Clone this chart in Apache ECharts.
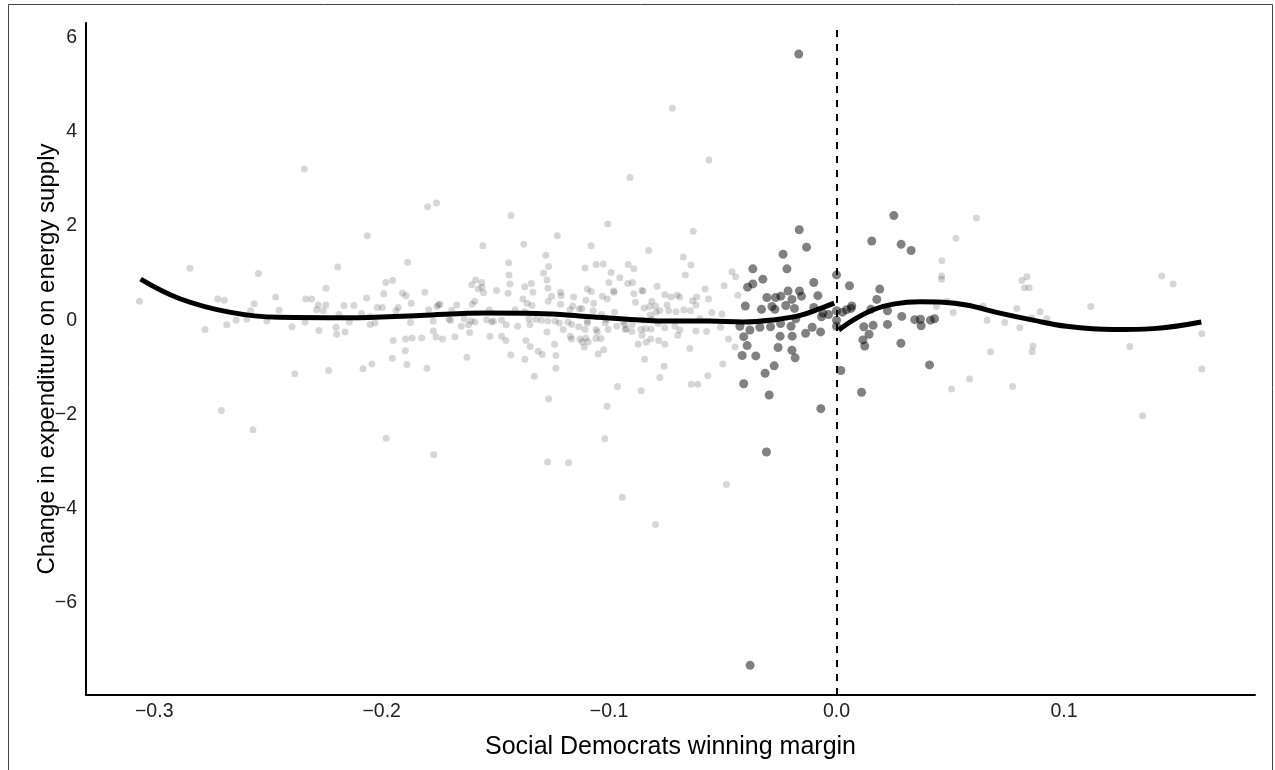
<!DOCTYPE html>
<html>
<head>
<meta charset="utf-8">
<script src="https://cdn.jsdelivr.net/npm/echarts@6/dist/echarts.min.js"></script>
<style>
  html, body { margin: 0; padding: 0; background: #fff; }
  #chart { width: 1275px; height: 770px; }
</style>
</head>
<body>
<div id="chart"></div>
<script>
// tick positions
const xTicks = [-0.3, -0.2, -0.1, 0, 0.1];
const yTicks = [-6, -4, -2, 0, 2, 4, 6];

// municipalities away from the cutoff (light points)
const farPoints = [
  [-0.2063,1.79],[-0.2843,1.10],[-0.2542,0.99],[-0.2193,1.13],[-0.3065,0.40],[-0.2721,0.45],[-0.2692,0.42],[-0.2561,0.35],
  [-0.2466,0.49],[-0.2576,0.20],[-0.2451,0.21],[-0.2334,0.45],[-0.2308,0.45],[-0.2245,0.68],[-0.2279,0.32],[-0.2245,0.32],
  [-0.2286,0.22],[-0.2257,0.20],[-0.2166,0.31],[-0.2122,0.31],[-0.2066,0.47],[-0.2088,0.14],[-0.2019,0.27],[-0.2188,0.12],
  [-0.2777,-0.20],[-0.2681,-0.10],[-0.2640,0.00],[-0.2593,0.02],[-0.2505,-0.02],[-0.2394,-0.14],[-0.2337,-0.04],[-0.2276,-0.22],
  [-0.2201,-0.15],[-0.2198,-0.30],[-0.2161,-0.25],[-0.2142,-0.04],[-0.2051,-0.09],[-0.2029,-0.06],[-0.2382,-1.14],[-0.2233,-1.07],
  [-0.2082,-1.03],[-0.2043,-0.93],[-0.2705,-1.92],[-0.2566,-2.33],
  [-0.1228,1.79],[-0.1555,1.58],[-0.1375,1.61],[-0.1079,1.58],[-0.0826,1.48],[-0.1886,1.23],[-0.1278,1.38],[-0.1442,1.22],
  [-0.1266,1.14],[-0.1057,1.18],[-0.1026,1.19],[-0.1106,1.11],[-0.0916,1.18],[-0.0891,1.09],[-0.1288,1.00],[-0.1440,0.96],
  [-0.0991,1.01],[-0.0953,0.90],[-0.1982,0.80],[-0.1952,0.84],[-0.1908,0.57],[-0.1893,0.52],[-0.1991,0.56],[-0.1810,0.59],
  [-0.1870,0.36],[-0.1927,0.27],[-0.1937,0.20],[-0.1997,0.27],
  [-0.1604,0.75],[-0.1587,0.85],[-0.1560,0.80],[-0.1559,0.70],[-0.1575,0.66],[-0.1552,0.58],[-0.1495,0.63],[-0.1436,0.77],
  [-0.1444,0.57],[-0.1371,0.71],[-0.1342,0.78],[-0.1335,0.59],[-0.1273,0.85],[-0.1269,0.68],[-0.1253,0.51],[-0.1213,0.59],
  [-0.1211,0.52],[-0.1213,0.34],[-0.1268,0.40],[-0.1379,0.45],[-0.1360,0.36],[-0.1339,0.31],[-0.1156,0.49],[-0.1102,0.42],
  [-0.1096,0.66],[-0.1079,0.61],[-0.1030,0.51],[-0.1008,0.45],[-0.1001,0.80],[-0.0980,0.62],[-0.0978,0.59],[-0.0918,0.78],
  [-0.0897,0.80],[-0.0891,0.56],[-0.0884,0.38],[-0.0857,0.63],[-0.0850,0.62],[-0.0789,0.72],[-0.0755,0.54],[-0.0812,0.40],
  [-0.0822,0.29],[-0.0846,0.26],[-0.0796,0.30],[-0.0777,0.20],[-0.0738,0.20],[-0.0745,0.32],
  [-0.2051,0.08],[-0.1873,-0.05],[-0.1793,0.22],[-0.1773,-0.02],[-0.1758,0.29],[-0.1744,0.34],[-0.1750,0.32],[-0.1692,0.21],
  [-0.1704,0.02],[-0.1697,-0.01],[-0.1670,0.32],[-0.1650,-0.13],[-0.1637,0.03],[-0.1618,-0.10],[-0.1602,0.34],[-0.1591,0.40],
  [-0.1607,-0.02],[-0.1590,-0.04],[-0.1538,0.01],[-0.1527,0.22],[-0.1508,-0.02],[-0.1516,-0.04],[-0.1473,0.00],[-0.1452,-0.10],
  [-0.1413,0.22],[-0.1402,-0.13],[-0.1371,0.18],[-0.1353,0.03],[-0.1348,-0.09],[-0.1322,0.02],[-0.1298,0.00],[-0.1269,-0.02],
  [-0.1237,-0.02],[-0.1219,-0.06],[-0.1202,-0.20],[-0.1181,-0.04],[-0.1164,-0.09],[-0.1172,0.22],[-0.1160,0.30],[-0.1131,0.24],
  [-0.1120,0.25],[-0.1096,-0.02],[-0.1095,-0.06],[-0.1133,-0.14],[-0.1106,-0.20],[-0.1102,-0.38],[-0.1057,-0.20],[-0.1052,-0.25],
  [-0.1033,0.12],[-0.1068,0.36],[-0.1070,0.20],[-0.1013,0.01],[-0.1017,-0.06],[-0.1004,-0.20],[-0.0976,0.17],[-0.0966,-0.13],
  [-0.0938,-0.04],[-0.0931,-0.09],[-0.0925,-0.18],[-0.0899,-0.09],[-0.0860,-0.20],[-0.0850,0.00],[-0.0840,-0.18],[-0.0819,0.11],
  [-0.0812,0.02],[-0.0815,-0.19],[-0.0784,-0.07],[-0.0755,-0.16],[-0.0794,0.17],
  [-0.1949,-0.43],[-0.1895,-0.40],[-0.1866,-0.38],[-0.1824,-0.38],[-0.1773,-0.23],[-0.1761,-0.36],[-0.1732,-0.40],[-0.1678,-0.35],
  [-0.1613,-0.26],[-0.1524,-0.34],[-0.1473,-0.34],[-0.1454,-0.43],[-0.1366,-0.43],[-0.1347,-0.56],[-0.1312,-0.66],[-0.1294,-0.73],
  [-0.1240,-0.51],[-0.1234,-0.75],[-0.1273,-0.25],[-0.1171,-0.34],[-0.1165,-0.40],[-0.1128,-0.40],[-0.1118,-0.46],[-0.1109,-0.57],
  [-0.1092,-0.46],[-0.1058,-0.39],[-0.1036,-0.39],[-0.1024,-0.63],[-0.1048,-0.72],[-0.0929,-0.20],[-0.0901,-0.24],[-0.0872,-0.51],
  [-0.0855,-0.32],[-0.0837,-0.47],[-0.0817,-0.40],[-0.0782,-0.43],[-0.0755,-0.51],
  [-0.1953,-0.81],[-0.1896,-0.65],[-0.1889,-0.94],[-0.1801,-1.02],[-0.1625,-0.79],[-0.1432,-0.74],[-0.1370,-0.83],[-0.1329,-1.19],
  [-0.1234,-1.02],[-0.1266,-1.67],[-0.1009,-1.83],[-0.0963,-1.41],[-0.0859,-1.50],[-0.0844,-0.83],[-0.0777,-1.22],[-0.0758,-0.98],
  [-0.0630,1.89],[-0.0674,1.34],[-0.0640,1.17],[-0.0665,0.96],[-0.0460,1.03],[-0.0443,0.92],[-0.0494,0.73],[-0.0578,0.66],
  [-0.0434,0.53],[-0.0728,0.49],[-0.0701,0.53],[-0.0689,0.49],[-0.0633,0.41],[-0.0615,0.49],[-0.0563,0.45],[-0.0618,0.32],
  [-0.0706,0.18],[-0.0671,0.22],[-0.0642,0.20],[-0.0548,0.16],[-0.0504,0.13],[-0.0601,0.03],[-0.0711,-0.13],[-0.0689,-0.21],
  [-0.0618,-0.23],[-0.0571,-0.24],[-0.0510,-0.15],[-0.0698,-0.32],[-0.0475,-0.40],[-0.0446,-0.57],[-0.0645,-0.60],[-0.0500,-0.93],
  [-0.0566,-1.18],[-0.0639,-1.36],[-0.0610,-1.36],
  [0.0615,2.17],[0.0525,1.74],[0.0463,1.26],[0.0462,0.94],[0.0462,0.87],[0.0815,0.84],[0.0837,0.92],[0.0826,0.69],
  [0.0847,0.69],[0.1430,0.94],[0.1480,0.77],[0.0486,0.40],[0.0439,0.29],[0.0513,0.16],[0.0645,0.30],[0.0662,0.00],
  [0.0740,-0.05],[0.0793,0.25],[0.0806,-0.16],[0.0857,0.05],[0.0895,0.18],[0.0925,0.03],[0.1118,0.29],[0.0677,-0.67],
  [0.0864,-0.55],[0.0860,-0.67],[0.1289,-0.56],[0.1606,-0.29],[0.1606,-1.04],[0.0585,-1.25],[0.0506,-1.46],[0.0774,-1.41],
  [0.1346,-2.03],
  [-0.0722,4.50],[-0.0561,3.40],[-0.2340,3.21],[-0.0908,3.03],[-0.1798,2.41],[-0.1759,2.49],[-0.1431,2.22],[-0.1005,2.04],
  [-0.1980,-2.51],[-0.1771,-2.86],[-0.1270,-3.01],[-0.1178,-3.03],[-0.1019,-2.52],[-0.0942,-3.76],[-0.0796,-4.34],[-0.0484,-3.49]
];

// municipalities close to the cutoff (dark points)
const closePoints = [
  [-0.0164,1.92],[-0.0132,1.55],[-0.0235,1.40],[-0.0218,1.09],[-0.0368,1.09],[-0.0324,0.87],[-0.0368,0.77],[-0.0391,0.70],
  [-0.0100,0.80],[0.0000,0.96],[-0.0306,0.48],[-0.0268,0.48],[-0.0245,0.51],[-0.0213,0.62],[-0.0163,0.62],[-0.0196,0.44],
  [-0.0154,0.51],[-0.0082,0.52],[-0.0401,0.30],[-0.0330,0.23],[-0.0284,0.29],[-0.0271,0.23],[-0.0223,0.31],[-0.0185,0.25],
  [-0.0100,0.27],[-0.0060,0.15],[-0.0066,0.07],[-0.0035,0.12],[0.0000,0.20],[0.0000,0.00],[0.0000,-0.13],[0.0026,0.17],
  [0.0057,0.73],[0.0067,0.30],[0.0064,0.25],[0.0044,0.22],[0.0019,-1.07],[-0.0425,-0.13],[-0.0381,-0.21],[-0.0337,-0.15],
  [-0.0290,-0.14],[-0.0246,-0.07],[-0.0200,-0.13],[-0.0179,0.03],[-0.0408,-0.35],[-0.0393,-0.54],[-0.0415,-0.75],[-0.0355,-0.76],
  [-0.0257,-0.58],[-0.0248,-0.34],[-0.0195,-0.34],[-0.0136,-0.28],[-0.0107,-0.15],[-0.0070,-0.25],[-0.0196,-0.64],[-0.0182,-0.80],
  [-0.0274,-0.97],[-0.0314,-1.13],[-0.0408,-1.35],[-0.0296,-1.59],[-0.0069,-1.88],[0.0110,-1.53],[0.0116,-0.42],[0.0124,-0.55],
  [0.0143,-0.30],[0.0120,-0.14],[0.0161,-0.11],[0.0155,1.68],[0.0284,1.61],[0.0328,1.48],[0.0190,0.66],[0.0177,0.44],
  [0.0151,0.23],[0.0224,0.20],[0.0224,-0.09],[0.0287,0.08],[0.0283,-0.49],[0.0344,0.01],
  [0.0369,0.02],[0.0372,-0.12],[0.0413,0.00],[0.0431,0.03],[0.0409,-0.95],
  [-0.0166,5.65],[0.0252,2.22],[-0.0308,-2.80],[-0.0380,-7.33]
];

// fitted curves on each side of the cutoff
const fitLeft = [
  [-0.306,0.87],[-0.289,0.46],[-0.267,0.17],[-0.245,0.06],[-0.215,0.05],[-0.183,0.10],[-0.154,0.15],
  [-0.132,0.14],[-0.110,0.08],[-0.088,0.01],[-0.073,-0.02],[-0.056,-0.02],[-0.041,-0.04],[-0.027,0.01],
  [-0.016,0.10],[-0.007,0.25],[-0.001,0.36]
];
const fitRight = [
  [0.001,-0.21],[0.0073,0.00],[0.0161,0.22],[0.0249,0.34],[0.0366,0.39],[0.0469,0.38],[0.0571,0.32],
  [0.0718,0.15],[0.0864,0.00],[0.1011,-0.13],[0.1216,-0.20],[0.1392,-0.18],[0.1604,-0.04]
];

const FONT = 'Liberation Sans';
const minus = s => String(s).replace('-', '\u2212');

const chart = echarts.init(document.getElementById('chart'));

const option = {
  backgroundColor: '#ffffff',
  animation: false,
  textStyle: { fontFamily: FONT },
  graphic: [{
    type: 'rect',
    shape: { x: 8.5, y: 4.5, width: 1264, height: 820 },
    style: { fill: 'none', stroke: '#444', lineWidth: 1 },
    silent: true
  }],
  grid: { left: 86, right: 20, top: 23, bottom: 75, containLabel: false },
  xAxis: {
    type: 'value',
    min: -0.33,
    max: 0.184,
    name: 'Social Democrats winning margin',
    nameLocation: 'middle',
    nameGap: 40,
    nameMoveOverlap: false,
    nameTextStyle: { fontFamily: FONT, fontSize: 25, color: '#000' },
    axisLine: { show: true, onZero: false, lineStyle: { color: '#000', width: 2 } },
    axisTick: { show: false },
    splitLine: { show: false },
    axisLabel: {
      customValues: xTicks,
      margin: 7,
      fontFamily: FONT,
      fontSize: 19.5,
      color: '#222',
      formatter: v => minus(v.toFixed(1))
    }
  },
  yAxis: {
    type: 'value',
    min: -7.96,
    max: 6.31,
    name: 'Change in expenditure on energy supply',
    nameLocation: 'middle',
    nameRotate: 90,
    nameGap: 27,
    nameMoveOverlap: false,
    nameTextStyle: { fontFamily: FONT, fontSize: 24, color: '#000' },
    axisLine: { show: true, onZero: false, lineStyle: { color: '#000', width: 2 } },
    axisTick: { show: false },
    splitLine: { show: false },
    axisLabel: {
      customValues: yTicks,
      margin: 9,
      fontFamily: FONT,
      fontSize: 19.5,
      color: '#222',
      formatter: v => minus(v)
    }
  },
  series: [
    {
      name: 'far',
      type: 'scatter',
      data: farPoints,
      symbolSize: 7,
      itemStyle: { color: 'rgba(0,0,0,0.2)' },
      silent: true
    },
    {
      name: 'close',
      type: 'scatter',
      data: closePoints,
      symbolSize: 9,
      itemStyle: { color: 'rgba(0,0,0,0.62)' },
      silent: true,
      markLine: {
        silent: true,
        symbol: ['none', 'none'],
        label: { show: false },
        lineStyle: { color: '#000', width: 2, type: [7, 7] },
        data: [{ xAxis: 0 }]
      }
    },
    {
      name: 'fitLeft',
      type: 'line',
      data: fitLeft,
      smooth: 0.4,
      showSymbol: false,
      lineStyle: { color: '#000', width: 5 },
      z: 5
    },
    {
      name: 'fitRight',
      type: 'line',
      data: fitRight,
      smooth: 0.4,
      showSymbol: false,
      lineStyle: { color: '#000', width: 5 },
      z: 5
    }
  ]
};

chart.setOption(option);
</script>
</body>
</html>
